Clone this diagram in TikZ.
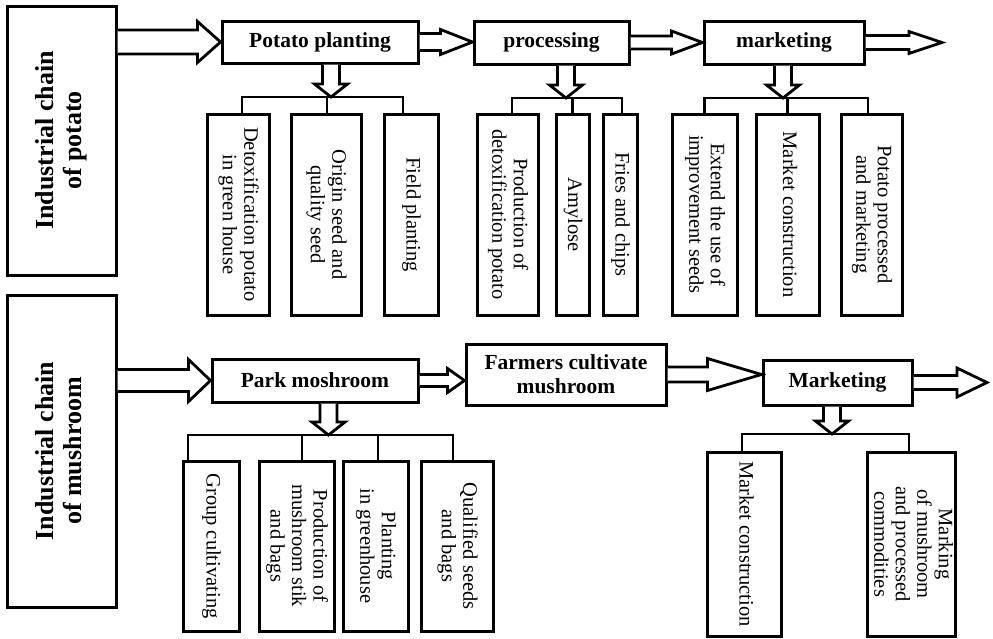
\documentclass[tikz,border=0pt]{standalone}
\usepackage{fontspec}
\setmainfont{Liberation Serif}
\usepackage{graphicx}
\usetikzlibrary{calc,positioning}

% rotated multi-line text
\newcommand{\vtext}[2][-90]{\rotatebox{#1}{\begin{tabular}{@{}c@{}}#2\end{tabular}}}
% hollow arrow to the right: start, tip, shaft half, head half, head length
\newcommand{\fatright}[5]{%
  \draw[fatline] let \p1=#1, \p2=#2 in
    (\x1,\y1+#3) -- (\x2-#5,\y1+#3) -- (\x2-#5,\y1+#4) -- (\x2,\y1)
    -- (\x2-#5,\y1-#4) -- (\x2-#5,\y1-#3) -- (\x1,\y1-#3);}
% hollow arrow down: node, tip
\newcommand{\fatdown}[2]{%
  \draw[fatline] let \p1=#2, \p2=(#1.south) in
    (\x1-8.5pt,\y2) -- (\x1-8.5pt,\y1+13pt) -- (\x1-16.5pt,\y1+13pt) -- (\x1,\y1)
    -- (\x1+16.5pt,\y1+13pt) -- (\x1+8.5pt,\y1+13pt) -- (\x1+8.5pt,\y2);}

\begin{document}
\begin{tikzpicture}[x=1pt,y=-1pt,
    chainbox/.style={draw, line width=3pt, inner sep=0pt, font=\bfseries\fontsize{26}{28}\selectfont},
    hbox/.style={draw, line width=3pt, inner sep=0pt, align=center, font=\bfseries\fontsize{21.5}{24}\selectfont},
    vbox/.style={draw, line width=3pt, inner sep=0pt, font=\fontsize{20.5}{21.5}\selectfont},
    fatline/.style={line width=2.8pt, fill=white, line join=miter},
    brk/.style={line width=2.8pt, line join=miter}]
\useasboundingbox (0,0) rectangle (993,638);

% chains
\node[chainbox, minimum width=109pt, minimum height=269pt] (lpot) at (61.5,140.5) {\vtext[90]{Industrial chain\\of potato}};
\node[chainbox, minimum width=109pt, minimum height=312pt] (lmush) at (61.5,451) {\vtext[90]{Industrial chain\\of mushroom}};

% stages
\node[hbox, minimum width=196pt, minimum height=42pt] (plant) at (320,42) {Potato planting};
\node[hbox, minimum width=155pt, minimum height=43pt] (proc) at (551.5,42.5) {processing};
\node[hbox, minimum width=160pt, minimum height=43pt] (pmkt) at (784,42.5) {marketing};
\node[hbox, minimum width=206pt, minimum height=43pt] (park) at (315,380.5) {Park moshroom};
\node[hbox, minimum width=200pt, minimum height=61pt] (farm) at (566,374.5) {Farmers cultivate\\mushroom};
\node[hbox, minimum width=149pt, minimum height=45pt] (mmkt) at (837.5,382.5) {Marketing};

% potato items
\foreach \n/\x/\w/\t in {p1/238/62/{Detoxification potato\\in green house},
    p2/326/70/{Origin seed and\\quality seed}, p3/411/54/{Field planting},
    p4/507.5/61/{Production of\\detoxification potato}, p5/572.5/33/{Amylose},
    p6/620/34/{Fries and chips}, p7/704.5/65/{Extend the use of\\improvement seeds},
    p8/787.5/63/{Market construction}, p9/871.5/61/{Potato processed\\and marketing}}
  \node[vbox, minimum width=\w pt, minimum height=201pt] (\n) at (\x,214.5) {\vtext{\t}};

% mushroom items
\foreach \n/\x/\w/\t in {m1/211/56/{Group cultivating},
    m2/296.5/75/{Production of\\mushroom stik\\and bags},
    m3/375.5/65/{Planting\\in greenhouse}, m4/457/72/{Qualified seeds\\and bags}}
  \node[vbox, minimum width=\w pt, minimum height=170pt] (\n) at (\x,546) {\vtext{\t}};
\node[vbox, minimum width=74pt, minimum height=184pt] (k1) at (744,544) {\vtext{Market construction}};
\node[vbox, minimum width=88pt, minimum height=184pt] (k2) at (911,544) {\vtext{Marking\\of mushroom\\and processed\\commodities}};

\coordinate (bplant) at (331,97);
\coordinate (bproc) at (566,98);
\coordinate (bpmkt) at (783,98);
\coordinate (bpark) at (328.5,435);
\coordinate (bmmkt) at (832,434);
\coordinate (pout) at (942,42.5);
\coordinate (mout) at (987,384);

% brackets
\draw[brk] ($(p1.north)+(4,0)$) |- ($(p3.north |- bplant)+(-8,0)$) -- ($(p3.north)+(-8,0)$);
\draw[brk] ($(p2.north)+(1,0)$) -- ($(p2.north |- bplant)+(1,0)$);
\draw[brk] ($(p4.north)+(4.5,0)$) |- ($(p6.north |- bproc)+(2,0)$) -- ($(p6.north)+(2,0)$);
\draw[brk] (p5.north) -- (p5.north |- bproc);
\draw[brk] (p7.north) |- ($(p9.north |- bpmkt)+(-3.5,0)$) -- ($(p9.north)+(-3.5,0)$);
\draw[brk] (p8.north) -- (p8.north |- bpmkt);
\draw[brk] ($(m1.north)+(-23,0)$) |- ($(m4.north |- bpark)+(-4,0)$) -- ($(m4.north)+(-4,0)$);
\draw[brk] ($(m2.north)+(5.5,0)$) -- ($(m2.north |- bpark)+(5.5,0)$);
\draw[brk] ($(m3.north)+(2.5,0)$) -- ($(m3.north |- bpark)+(2.5,0)$);
\draw[brk] ($(k1.north)+(-2,0)$) |- ($(k2.north |- bmmkt)+(-2,0)$) -- ($(k2.north)+(-2,0)$);

% arrows
\fatright{(lpot.east |- plant.west)}{(plant.west)}{12pt}{20.5pt}{23pt}
\fatright{(plant.east)}{(proc.west)}{8.5pt}{12.5pt}{32pt}
\fatright{(proc.east)}{(pmkt.west)}{6.5pt}{11.5pt}{31pt}
\fatright{(pmkt.east)}{(pout)}{7pt}{11pt}{33pt}
\fatright{(lmush.east |- park.west)}{(park.west)}{11pt}{21pt}{22pt}
\fatright{(park.east)}{(farm.west)}{6pt}{12pt}{17pt}
\fatright{(farm.east)}{(mmkt.west)}{7.5pt}{16pt}{54pt}
\fatright{(mmkt.east)}{(mout)}{7pt}{14.5pt}{30pt}

\fatdown{plant}{(bplant)}
\fatdown{proc}{(bproc)}
\fatdown{pmkt}{(bpmkt)}
\fatdown{park}{(bpark)}
\fatdown{mmkt}{(bmmkt)}

\end{tikzpicture}
\end{document}
